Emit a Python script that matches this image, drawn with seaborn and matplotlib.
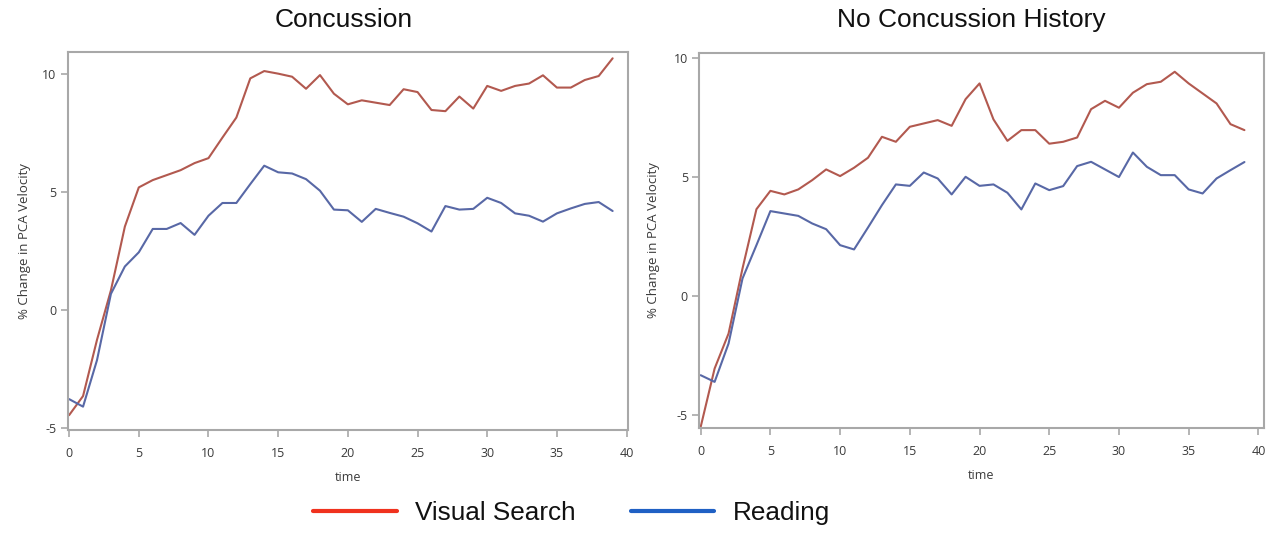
import numpy as np
import pandas as pd
import seaborn as sns
import matplotlib
matplotlib.use("Agg")
import matplotlib.pyplot as plt
from matplotlib.lines import Line2D

time = list(range(40))

conc_visual = [-4.44, -3.63, -1.25, 0.85, 3.55, 5.21, 5.52, 5.73, 5.94, 6.24,
               6.45, 7.32, 8.17, 9.83, 10.14, 10.03, 9.90, 9.39, 9.97, 9.18,
               8.73, 8.90, 8.80, 8.70, 9.37, 9.25, 8.49, 8.44, 9.06, 8.55,
               9.51, 9.30, 9.51, 9.61, 9.96, 9.44, 9.44, 9.76, 9.93, 10.68]
conc_reading = [-3.76, -4.08, -2.11, 0.70, 1.86, 2.46, 3.45, 3.45, 3.70, 3.20,
                4.01, 4.55, 4.55, 5.35, 6.13, 5.85, 5.80, 5.56, 5.07, 4.27,
                4.24, 3.75, 4.30, 4.13, 3.97, 3.69, 3.34, 4.42, 4.27, 4.30,
                4.77, 4.55, 4.11, 4.01, 3.76, 4.11, 4.32, 4.51, 4.59, 4.21]
noconc_visual = [-5.50, -3.05, -1.58, 1.15, 3.64, 4.41, 4.26, 4.47, 4.86, 5.31,
                 5.03, 5.38, 5.80, 6.68, 6.47, 7.10, 7.24, 7.38, 7.14, 8.26,
                 8.92, 7.41, 6.51, 6.96, 6.96, 6.39, 6.47, 6.65, 7.84, 8.19,
                 7.90, 8.53, 8.89, 8.99, 9.41, 8.92, 8.50, 8.08, 7.21, 6.96]
noconc_reading = [-3.33, -3.61, -2.00, 0.73, 2.13, 3.56, 3.46, 3.36, 3.04, 2.80,
                  2.13, 1.95, 2.87, 3.81, 4.68, 4.62, 5.18, 4.93, 4.26, 5.00,
                  4.62, 4.68, 4.33, 3.63, 4.72, 4.44, 4.61, 5.45, 5.63, 5.31,
                  4.99, 6.02, 5.42, 5.07, 5.07, 4.47, 4.30, 4.93, 5.28, 5.62]

panel_titles = ["Concussion", "No Concussion History"]
task_names = ["Visual Search", "Reading"]
x_ticks = [0, 5, 10, 15, 20, 25, 30, 35, 40]
y_ticks = [-5, 0, 5, 10]

rows = []
for panel, (vs, rd) in zip(panel_titles, [(conc_visual, conc_reading),
                                          (noconc_visual, noconc_reading)]):
    for t, v, r in zip(time, vs, rd):
        rows.append((panel, "Visual Search", t, v))
        rows.append((panel, "Reading", t, r))
df = pd.DataFrame(rows, columns=["panel", "task", "time", "value"])

sns.set_theme(style="white")
plt.rcParams["font.family"] = ["Open Sans", "DejaVu Sans"]
plt.rcParams["axes.unicode_minus"] = False

line_pal = {"Visual Search": "#b2594f", "Reading": "#5868a6"}
legend_pal = {"Visual Search": "#f0321e", "Reading": "#1f60c4"}

fig = plt.figure(figsize=(12.73, 5.33), dpi=100)
ax_rects = [[0.0532, 0.1932, 0.4401, 0.7098],
            [0.5491, 0.1964, 0.4438, 0.7047]]
xlims = [(-0.1, 40.1), (-0.12, 40.4)]
ylims = [(-5.07, 10.96), (-5.56, 10.21)]
xlabpads = [8, 8]
ylabpads = [8, 10]
title_x = [0.270, 0.763]

frame_col = "#a8a8a8"
text_col = "#3a3a3a"

for i, panel in enumerate(panel_titles):
    ax = fig.add_axes(ax_rects[i])
    sub = df[df["panel"] == panel]
    sns.lineplot(data=sub, x="time", y="value", hue="task",
                 palette=line_pal, hue_order=task_names, legend=False,
                 linewidth=1.5, ax=ax)
    ax.set_xlim(*xlims[i])
    ax.set_ylim(*ylims[i])
    ax.set_xticks(x_ticks)
    ax.set_yticks(y_ticks)
    ax.tick_params(axis="both", which="major", direction="out", length=5,
                   width=1.2, color=frame_col, labelsize=9,
                   labelcolor=text_col)
    ax.tick_params(axis="x", pad=7)
    ax.tick_params(axis="y", pad=3)
    ax.tick_params(bottom=True, left=True)
    for s in ax.spines.values():
        s.set_color(frame_col)
        s.set_linewidth(1.5)
    ax.set_xlabel("time", fontsize=9, color=text_col, labelpad=xlabpads[i])
    ax.set_ylabel("% Change in PCA Velocity", fontsize=9.5, color=text_col,
                  labelpad=ylabpads[i])
    ax.grid(False)
    fig.text(title_x[i], 0.962, panel, ha="center", va="center", fontsize=19,
             family=["Liberation Sans", "DejaVu Sans"], color="#111111")

handles = [Line2D([0], [0], color=legend_pal[t], lw=3) for t in task_names]
leg = fig.legend(handles, task_names, loc="center", bbox_to_anchor=(0.449, 0.037),
                 ncol=2, frameon=False, handlelength=3.2, handletextpad=0.7,
                 columnspacing=2.1,
                 prop={"family": ["Liberation Sans", "DejaVu Sans"], "size": 18.8})
for txt in leg.get_texts():
    txt.set_color("#111111")

fig.savefig("out.png", dpi=100, facecolor="white")
